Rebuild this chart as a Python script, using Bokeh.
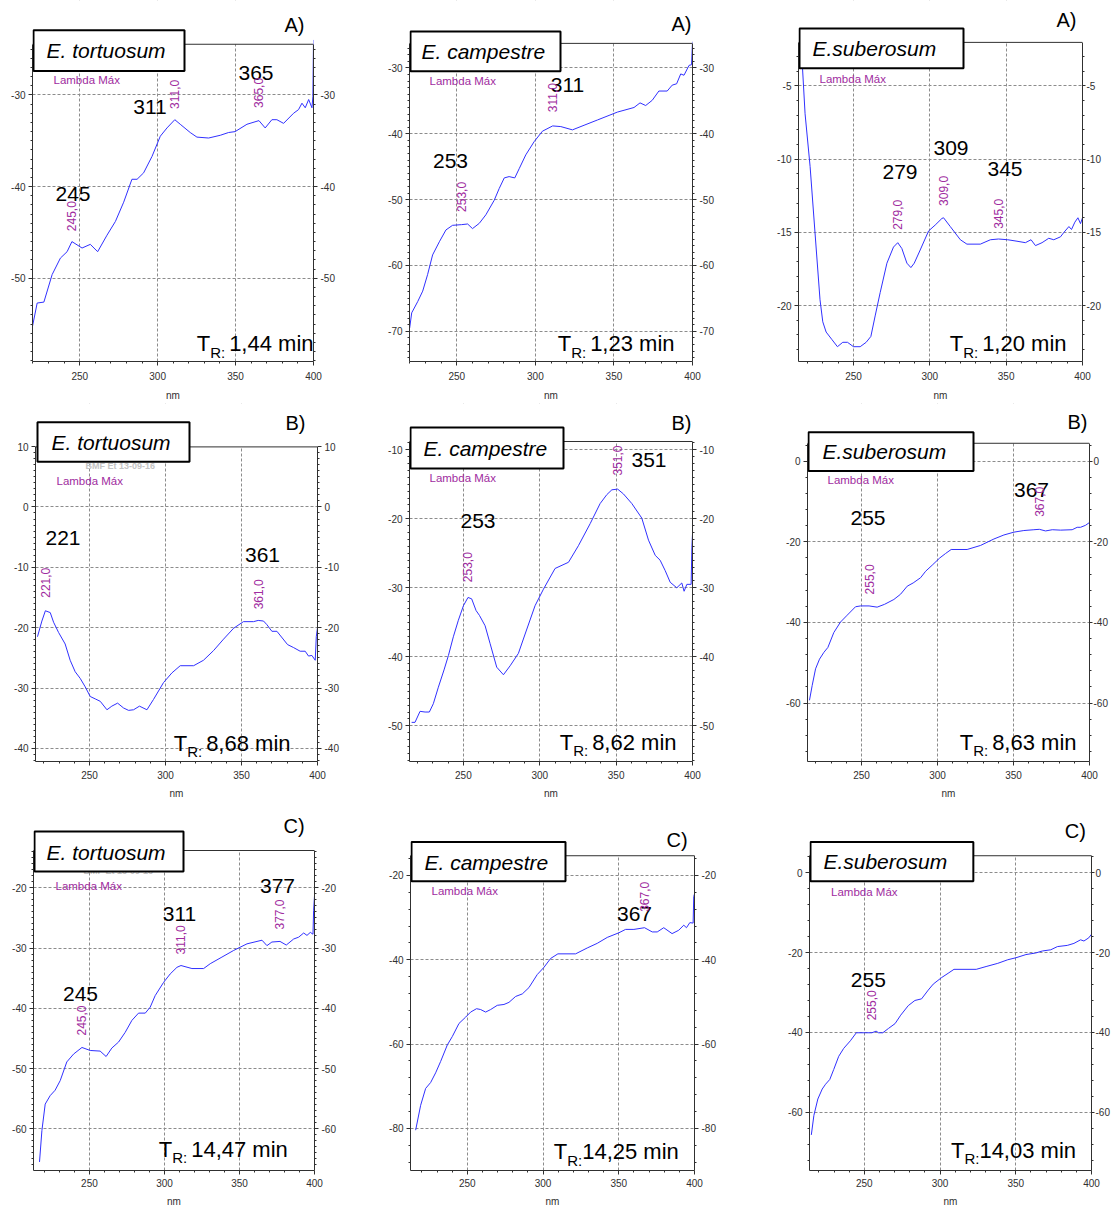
import numpy as np
from bokeh.plotting import figure
from bokeh.layouts import column, row
from bokeh.models import Range1d, LinearAxis, FixedTicker, Label, BoxAnnotation, Span
from bokeh.embed import file_html
from bokeh.resources import INLINE

FONT = "Liberation Sans"
BLUE = "#3030ff"
PURPLE = "#a02ca0"
INK = "#303030"
GRID = "#8c8c8c"

# ---------------- spectra: wavelength (nm) and signal (mAU) ----------------
tortuosum_a_nm = [219.5, 222.7, 227.0, 232.3, 237.6, 241.9, 245.0, 251.5, 256.8, 261.5, 267.5, 272.9,
                  278.2, 283.5, 286.8, 291.0, 296.4, 301.7, 306.0, 311.0, 314.5, 320.9, 325.2, 332.7,
                  340.2, 345.5, 349.7, 357.3, 365.0, 369.0, 373.3, 376.5, 380.8, 387.2, 390.4, 392.6,
                  394.7, 396.9, 399.0, 399.6, 400.0]
tortuosum_a_mau = [-55.4, -52.7, -52.6, -49.6, -47.8, -47.1, -46.0, -46.7, -46.3, -47.1, -45.3, -43.8,
                   -41.7, -39.2, -39.2, -38.5, -36.7, -34.5, -33.6, -32.7, -33.2, -34.1, -34.6, -34.7,
                   -34.4, -34.1, -34.0, -33.2, -32.8, -33.6, -32.7, -32.7, -33.1, -32.0, -31.6, -30.9,
                   -31.4, -30.5, -31.4, -30.2, -24.0]
tortuosum_a_peaks = [245, 311, 365]

campestre_a_nm = [220.0, 221.3, 225.1, 228.3, 231.4, 234.6, 238.9, 243.1, 247.3, 253.0, 256.9, 260.0,
                  264.3, 268.5, 273.8, 277.0, 280.2, 283.3, 286.9, 289.7, 293.9, 299.2, 304.5, 311.0,
                  316.2, 323.6, 331.0, 339.5, 346.9, 352.2, 362.8, 366.6, 370.2, 374.4, 378.6, 383.9,
                  387.1, 389.9, 392.5, 394.6, 397.8, 399.4, 400.0]
campestre_a_mau = [-69.5, -67.2, -65.5, -63.9, -61.4, -58.4, -56.4, -54.6, -53.9, -53.8, -53.7, -54.4,
                   -53.6, -52.3, -50.1, -48.3, -46.7, -46.5, -46.7, -45.3, -43.2, -41.2, -39.6, -38.8,
                   -38.9, -39.4, -38.7, -37.9, -37.2, -36.7, -36.0, -35.3, -35.7, -34.9, -33.5, -33.5,
                   -32.6, -32.4, -30.9, -31.1, -29.6, -29.5, -26.0]
campestre_a_peaks = [253, 311]

suberosum_a_nm = [215.4, 218.3, 221.6, 224.8, 228.1, 229.9, 232.1, 235.8, 239.5, 243.0, 246.1, 250.0,
                  254.4, 258.3, 261.4, 264.2, 267.5, 271.9, 276.2, 279.0, 281.7, 285.0, 287.6, 289.8,
                  293.7, 299.2, 303.5, 307.9, 309.0, 313.4, 320.0, 324.3, 333.1, 339.7, 345.0, 351.0,
                  357.1, 362.6, 366.3, 369.2, 373.5, 377.9, 381.2, 385.6, 387.8, 391.1, 392.8, 395.0,
                  397.0, 398.7, 400.0]
suberosum_a_mau = [-1.5, -6.9, -10.5, -15.0, -19.6, -21.1, -21.8, -22.3, -22.8, -22.5, -22.5, -22.8,
                   -22.8, -22.5, -22.1, -20.7, -19.1, -17.1, -16.0, -15.7, -16.1, -17.1, -17.4, -17.1,
                   -16.2, -14.9, -14.5, -14.05, -14.0, -14.6, -15.5, -15.8, -15.8, -15.5, -15.45, -15.5,
                   -15.6, -15.7, -15.5, -15.9, -15.7, -15.4, -15.5, -15.3, -15.0, -14.6, -14.8, -14.3,
                   -14.0, -14.4, -14.0]
suberosum_a_peaks = [279, 309, 345]

tortuosum_b_nm = [215.8, 218.7, 221.0, 224.2, 226.4, 229.7, 234.0, 237.3, 240.6, 243.9, 247.2, 250.5,
                  253.8, 257.1, 261.5, 264.7, 268.5, 272.4, 275.7, 279.0, 282.9, 287.8, 292.1, 298.7,
                  304.2, 309.7, 318.5, 325.0, 331.6, 338.2, 344.8, 351.3, 357.9, 361.0, 364.5, 366.7,
                  370.0, 373.3, 380.3, 384.3, 388.6, 391.9, 394.1, 396.3, 398.5, 399.2, 400.0]
tortuosum_b_mau = [-21.5, -18.9, -17.2, -17.5, -19.1, -20.8, -22.7, -25.4, -27.3, -28.4, -29.8, -31.4,
                   -31.8, -32.2, -33.6, -33.0, -32.5, -33.3, -33.7, -33.6, -33.0, -33.6, -31.9, -29.1,
                   -27.5, -26.3, -26.3, -25.4, -23.8, -21.9, -20.1, -19.0, -19.0, -18.8, -18.9, -19.5,
                   -20.6, -20.6, -22.8, -23.3, -23.9, -23.9, -24.7, -24.6, -25.4, -21.5, -20.0]
tortuosum_b_peaks = [221, 361]

campestre_b_nm = [216.1, 218.3, 221.6, 224.9, 227.7, 230.3, 233.6, 237.3, 240.2, 243.4, 246.7, 250.0,
                  253.0, 255.4, 258.3, 260.5, 264.2, 267.5, 271.8, 276.2, 280.6, 286.0, 290.4, 296.9,
                  302.4, 310.0, 318.8, 325.3, 333.0, 339.5, 343.9, 347.2, 351.0, 354.8, 360.3, 366.8,
                  371.2, 375.6, 378.8, 382.1, 385.4, 389.7, 393.0, 394.5, 396.3, 399.1, 399.6, 400.0]
campestre_b_mau = [-49.5, -49.5, -47.9, -48.0, -48.0, -46.8, -44.4, -41.9, -39.8, -37.1, -34.7, -32.6,
                   -31.4, -31.6, -33.3, -34.0, -35.5, -38.1, -41.5, -42.6, -41.3, -39.5, -36.7, -32.6,
                   -30.2, -27.2, -26.3, -23.9, -20.7, -17.8, -16.5, -15.8, -15.7, -16.4, -17.8, -19.9,
                   -23.1, -25.3, -26.0, -27.5, -29.2, -30.0, -29.3, -30.5, -29.5, -29.5, -24.1, -22.2]
campestre_b_peaks = [253, 351]

suberosum_b_nm = [215.8, 217.6, 219.8, 222.4, 225.3, 227.9, 231.8, 236.2, 240.6, 246.1, 249.4, 255.0,
                  260.3, 265.2, 271.3, 275.7, 280.1, 284.0, 288.9, 292.2, 296.5, 301.5, 305.3, 309.0,
                  319.5, 328.3, 337.1, 343.7, 350.3, 356.8, 363.4, 367.0, 371.1, 375.5, 381.0, 388.6,
                  391.9, 394.1, 397.4, 400.0]
suberosum_b_mau = [-59.3, -55.6, -51.5, -49.1, -47.4, -46.2, -42.5, -39.9, -38.2, -36.1, -35.9, -35.9,
                   -36.2, -35.5, -34.3, -33.0, -31.0, -30.2, -28.9, -27.3, -25.8, -24.0, -22.9, -21.9,
                   -21.9, -20.9, -19.3, -18.3, -17.6, -17.2, -17.0, -16.9, -17.3, -17.0, -17.1, -17.0,
                   -16.4, -16.4, -15.9, -15.2]
suberosum_b_peaks = [255, 367]

tortuosum_c_nm = [216.7, 218.3, 220.5, 223.8, 227.1, 230.5, 234.9, 239.4, 245.0, 250.5, 257.1, 261.1,
                  264.9, 269.4, 273.8, 278.3, 282.7, 287.2, 290.5, 293.8, 299.4, 303.8, 308.3, 311.0,
                  318.3, 326.1, 330.5, 338.3, 346.1, 355.0, 365.0, 368.3, 371.6, 377.0, 381.2, 386.1,
                  389.4, 392.8, 395.0, 397.2, 399.0, 399.4, 400.0]
tortuosum_c_mau = [-65.5, -60.3, -55.9, -54.5, -53.6, -52.0, -48.9, -47.6, -46.5, -47.0, -47.1, -48.0,
                   -46.6, -45.6, -44.0, -42.0, -40.8, -40.8, -39.8, -37.9, -35.7, -34.3, -33.2, -32.9,
                   -33.4, -33.4, -32.6, -31.5, -30.4, -29.3, -28.7, -29.6, -29.0, -28.9, -29.5, -28.5,
                   -28.2, -27.5, -27.9, -27.4, -27.7, -23.8, -21.3]
tortuosum_c_peaks = [245, 311, 377]

campestre_c_nm = [215.9, 219.2, 222.5, 225.8, 229.1, 232.4, 236.8, 240.1, 244.5, 248.9, 252.2, 256.1,
                  258.8, 262.1, 265.4, 269.8, 274.2, 277.5, 281.9, 286.3, 290.7, 296.2, 300.6, 305.0,
                  309.8, 321.5, 329.2, 335.8, 342.4, 350.1, 354.5, 360.0, 367.0, 372.1, 375.4, 379.7,
                  385.2, 389.6, 392.9, 394.7, 396.9, 399.1, 399.5, 400.0]
campestre_c_mau = [-80.4, -74.5, -70.5, -69.1, -66.8, -64.1, -60.2, -58.2, -55.1, -53.6, -52.4, -51.6,
                   -51.8, -52.4, -51.8, -50.8, -50.6, -50.1, -48.7, -48.1, -46.6, -43.5, -41.8, -39.7,
                   -38.6, -38.6, -37.2, -36.1, -34.7, -33.6, -32.8, -32.8, -32.4, -33.4, -33.4, -32.4,
                   -33.8, -33.0, -31.8, -32.4, -31.2, -31.3, -25.0, -24.4]
campestre_c_peaks = [367]

suberosum_c_nm = [215.0, 216.7, 219.3, 222.2, 224.4, 227.2, 229.8, 233.1, 236.4, 240.8, 244.7, 250.6,
                  255.0, 257.8, 259.4, 262.2, 266.0, 270.3, 274.0, 279.0, 283.4, 287.8, 292.2, 295.5,
                  300.9, 305.3, 309.2, 323.9, 330.4, 338.1, 344.7, 350.1, 356.7, 363.2, 367.6, 373.1,
                  377.5, 384.0, 388.4, 392.8, 395.0, 398.2, 400.0]
suberosum_c_mau = [-65.7, -60.8, -56.7, -54.2, -53.0, -51.8, -49.3, -46.0, -44.0, -42.1, -40.1, -40.1,
                   -40.1, -39.7, -40.1, -40.1, -39.0, -37.8, -35.7, -33.3, -32.0, -31.6, -29.4, -27.9,
                   -26.3, -25.2, -24.2, -24.2, -23.5, -22.7, -21.8, -21.3, -20.5, -20.1, -19.6, -19.3,
                   -18.5, -18.2, -17.7, -16.8, -17.1, -16.3, -15.4]
suberosum_c_peaks = [255]

x_ticks = [250, 300, 350, 400]
retention_times = ["1,44 min", "1,23 min", "1,20 min",
                   "8,68 min", "8,62 min", "8,63 min",
                   "14,47 min", "14,25 min", "14,03 min"]

# approximate Arial advance widths (em) used to lay out the T_R labels
ADV = {"0": .556, "1": .556, "2": .556, "3": .556, "4": .556, "5": .556, "6": .556, "7": .556,
       "8": .556, "9": .556, ",": .278, " ": .278, "m": .833, "i": .222, "n": .556}


def text_width(s, size):
    return sum(ADV.get(ch, .556) for ch in s) * size


# rows of the page grid (top, height) and per-row bottom-axis spacing
ROWS = [(0, 403, 6, 7), (403, 407, 5, 6), (810, 403, 4, 6)]
COLS = [(0, 370), (370, 370), (740, 372)]

# layout of each panel in page pixels: plot box (left, top, right, bottom) and text anchors
panels = [
    dict(frame=(32, 44, 313, 363), xr=(219.7, 400), yr=(-59.08, -24.47),
         yticks=[-50, -40, -30], ystep=1, name="E. tortuosum", tag="A)", tr=retention_times[0],
         nm=tortuosum_a_nm, mau=tortuosum_a_mau, peaks=tortuosum_a_peaks,
         box=(33, 30, 184, 71), name_xy=(46, 58.3), tag_xy=(284, 32), lam_xy=(53, 84),
         big=[(72.5, 202.5), (149.5, 114.5), (255.5, 80.5)], small=[232, 109, 108],
         tr_end=(313, 353.3), space=True, stamp=None),
    dict(frame=(409, 43, 692, 362), xr=(219.9, 400), yr=(-74.59, -26.26),
         yticks=[-70, -60, -50, -40, -30], ystep=1, name="E. campestre", tag="A)", tr=retention_times[1],
         nm=campestre_a_nm, mau=campestre_a_mau, peaks=campestre_a_peaks,
         box=(410, 31, 560, 71), name_xy=(421, 58.8), tag_xy=(671, 31), lam_xy=(429, 85),
         big=[(450, 168.5), (567, 92.5)], small=[212, 112],
         tr_end=(674, 352.2), space=True, stamp=None),
    dict(frame=(798, 42, 1082, 362), xr=(214.0, 400), yr=(-23.81, -2.03),
         yticks=[-20, -15, -10, -5], ystep=1, name="E.suberosum", tag="A)", tr=retention_times[2],
         nm=suberosum_a_nm, mau=suberosum_a_mau, peaks=suberosum_a_peaks,
         box=(799, 28, 963, 68), name_xy=(812, 55.7), tag_xy=(1056, 27), lam_xy=(819, 83),
         big=[(899.5, 179.5), (950.5, 155.5), (1004.5, 176.5)], small=[230, 206, 229],
         tr_end=(1066, 352.2), space=True, stamp=None),
    dict(frame=(35, 447, 317, 766), xr=(214.5, 400), yr=(-42.17, 9.95),
         yticks=[-40, -30, -20, -10, 0, 10], ystep=1, name="E. tortuosum", tag="B)", tr=retention_times[3],
         nm=tortuosum_b_nm, mau=tortuosum_b_mau, peaks=tortuosum_b_peaks,
         box=(37, 422, 189, 462), name_xy=(51, 449.8), tag_xy=(285, 429.5), lam_xy=(56, 486),
         big=[(62.5, 546.5), (262, 564)], small=[600, 611.7],
         tr_end=(290, 755.5), space=True, stamp=(85, 470)),
    dict(frame=(409, 441, 692, 761), xr=(214.7, 400), yr=(-55.17, -8.8),
         yticks=[-50, -40, -30, -20, -10], ystep=1, name="E. campestre", tag="B)", tr=retention_times[4],
         nm=campestre_b_nm, mau=campestre_b_mau, peaks=campestre_b_peaks,
         box=(410, 427, 563, 468), name_xy=(423, 455.5), tag_xy=(671, 429.5), lam_xy=(429, 481.7),
         big=[(477.5, 528.5), (648.5, 467.5)], small=[581.7, 475],
         tr_end=(676, 749.8), space=True, stamp=None),
    dict(frame=(807, 443, 1089, 763), xr=(214.5, 400), yr=(-74.48, 4.44),
         yticks=[-60, -40, -20, 0], ystep=4, name="E.suberosum", tag="B)", tr=retention_times[5],
         nm=suberosum_b_nm, mau=suberosum_b_mau, peaks=suberosum_b_peaks,
         box=(808, 432, 973, 471), name_xy=(822, 459.3), tag_xy=(1067, 428.5), lam_xy=(827, 484),
         big=[(867.5, 525.5), (1031, 497.5)], small=[595, 517],
         tr_end=(1076, 751.5), space=True, stamp=None),
    dict(frame=(33, 850, 314, 1170), xr=(212.7, 400), yr=(-66.92, -13.81),
         yticks=[-60, -50, -40, -30, -20], ystep=1, name="E. tortuosum", tag="C)", tr=retention_times[6],
         nm=tortuosum_c_nm, mau=tortuosum_c_mau, peaks=tortuosum_c_peaks,
         box=(34, 831, 183, 871), name_xy=(46, 859.2), tag_xy=(283, 833), lam_xy=(55, 890),
         big=[(80, 1000.8), (179, 920.8), (277, 893.5)], small=[1035, 954, 929],
         tr_end=(287.3, 1156.5), space=True, stamp=(83, 874)),
    dict(frame=(410, 856, 694, 1176), xr=(212.5, 400), yr=(-89.96, -15.34),
         yticks=[-80, -60, -40, -20], ystep=4, name="E. campestre", tag="C)", tr=retention_times[7],
         nm=campestre_c_nm, mau=campestre_c_mau, peaks=campestre_c_peaks,
         box=(411, 842, 565, 882), name_xy=(424, 870), tag_xy=(666, 847.5), lam_xy=(431, 896.3),
         big=[(634, 922.5)], small=[913],
         tr_end=(678.3, 1164.8), space=False, stamp=None),
    dict(frame=(809, 856, 1093, 1176), xr=(213.8, 400), yr=(-74.62, 4.27),
         yticks=[-60, -40, -20, 0], ystep=4, name="E.suberosum", tag="C)", tr=retention_times[8],
         nm=suberosum_c_nm, mau=suberosum_c_mau, peaks=suberosum_c_peaks,
         box=(810, 842, 974, 882), name_xy=(823, 869.5), tag_xy=(1066, 838.5), lam_xy=(830.7, 896.7),
         big=[(868.3, 989.8)], small=[1023.3],
         tr_end=(1076.7, 1163.2), space=False, stamp=None),
]


def style_axis(ax, ticker, ticks, bounds=None, standoff=3, tick_out=4):
    ax.ticker = ticker
    ax.major_label_overrides = {t: str(t) for t in ticks}
    ax.major_label_text_font = FONT
    ax.major_label_text_font_size = "10px"
    ax.major_label_text_color = INK
    ax.axis_line_color = INK
    ax.major_tick_line_color = INK
    ax.minor_tick_line_color = INK
    ax.major_tick_in = 0
    ax.major_tick_out = tick_out
    ax.minor_tick_in = 0
    ax.minor_tick_out = 2
    ax.major_label_standoff = standoff
    if bounds is not None:
        ax.bounds = bounds


def build(i, c):
    cx, cw = COLS[i % 3]
    cy, ch, x_standoff, nm_standoff = ROWS[i // 3]
    last_col = (i % 3 == 2)
    L, T, R, B = c["frame"]
    x0, x1 = c["xr"]
    y0, y1 = c["yr"]
    ky = (y1 - y0) / (B - T)
    # the drawing area reaches up to the top of the cell so the name box and
    # panel letter can sit above the plot box; that strip is masked in white
    y_top = y1 + (T - cy) * ky

    def X(px):
        return x0 + (px - L) / (R - L) * (x1 - x0)

    def Y(py):
        return y1 - (py - T) * ky

    p = figure(width=cw, height=ch, x_range=Range1d(x0, x1), y_range=Range1d(y0, y_top),
               output_backend="svg", toolbar_location=None, tools="",
               min_border_left=L - cx, min_border_right=cx + cw - R,
               min_border_top=0, min_border_bottom=cy + ch - B)
    p.background_fill_color = "white"
    p.border_fill_color = "white"
    p.outline_line_color = None

    def text(px, py, s, size, color="black", align="left", **kw):
        # py is the alphabetic baseline in page pixels
        p.add_layout(Label(x=X(px), y=Y(py - 0.36 * size), text=s, text_font=FONT,
                           text_font_size=f"{size}px", text_color=color, text_align=align,
                           text_baseline="alphabetic", **kw))

    x_minor = [v for v in range(210, 401, 10) if v not in x_ticks]
    xt = FixedTicker(ticks=x_ticks, minor_ticks=x_minor)
    step = c["ystep"]
    y_minor = list(np.arange(np.floor(y0 / step) * step, y1 + 1e-9, step))
    yt = FixedTicker(ticks=c["yticks"], minor_ticks=y_minor)

    xa = p.xaxis[0]
    style_axis(xa, xt, x_ticks, standoff=x_standoff)
    xa.axis_label = "nm"
    xa.axis_label_text_font = FONT
    xa.axis_label_text_font_size = "10px"
    xa.axis_label_text_font_style = "normal"
    xa.axis_label_text_color = INK
    xa.axis_label_standoff = nm_standoff
    style_axis(p.yaxis[0], yt, c["yticks"], bounds=(y0, y1))
    right = LinearAxis()
    style_axis(right, yt, c["yticks"], bounds=(y0, y1),
               standoff=1 if last_col else 3, tick_out=3 if last_col else 4)
    p.add_layout(right, "right")

    for g, t in ((p.xgrid[0], xt), (p.ygrid[0], yt)):
        g.ticker = t
        g.grid_line_color = GRID
        g.grid_line_dash = "3 2"
        g.grid_line_width = 1

    p.line(c["nm"], c["mau"], color=BLUE, line_width=1)

    # mask above the plot box, then its top edge
    p.add_layout(BoxAnnotation(left=x0, right=x1, bottom=y1, top=y_top,
                               fill_color="white", fill_alpha=1.0, line_color=None))
    p.add_layout(Span(location=y1, dimension="width", line_color=INK, line_width=1))

    # faint instrument stamp, partly under the sample name box
    if c["stamp"] is not None:
        sx, sy = c["stamp"]
        text(sx, sy, "BMF Et 13-09-16", 9, color="#c4c4c4", text_font_style="bold")

    bl, bt, br, bb = c["box"]
    p.add_layout(BoxAnnotation(left=X(bl), right=X(br), top=Y(bt), bottom=Y(bb),
                               fill_color="white", fill_alpha=1.0,
                               line_color="black", line_width=2, line_alpha=1.0))
    text(*c["name_xy"], c["name"], 21, text_font_style="italic")
    text(*c["tag_xy"], c["tag"], 20)
    text(*c["lam_xy"], "Lambda Máx", 11.5, color=PURPLE)

    for pk, (bx, by), sy in zip(c["peaks"], c["big"], c["small"]):
        text(bx, by, str(pk), 21, align="center")
        p.add_layout(Label(x=pk, y=Y(sy), text=f"{pk},0", text_font=FONT, text_font_size="12px",
                           text_color=PURPLE, text_align="left", text_baseline="middle",
                           angle=90, angle_units="deg"))

    # retention time: T with subscript R:
    ex, base = c["tr_end"]
    num_left = ex - text_width(c["tr"], 22)
    r_left = num_left - 15 - (4 if c["space"] else 0)
    text(num_left, base, c["tr"], 22)
    text(r_left, base + 6, "R:", 15)
    text(r_left - 13.5, base, "T", 22)
    return p


figs = [build(i, c) for i, c in enumerate(panels)]
layout = column(row(*figs[0:3]), row(*figs[3:6]), row(*figs[6:9]))

open("out.html", "w").write(file_html(layout, INLINE))
